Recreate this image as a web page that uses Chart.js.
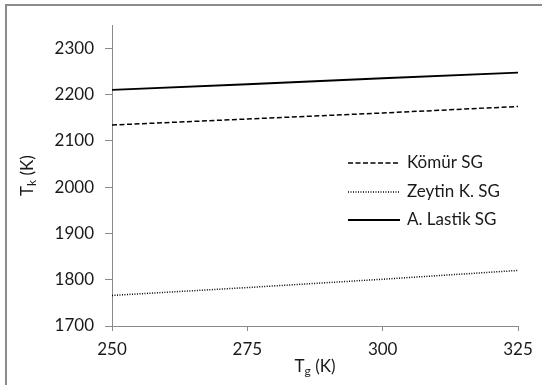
<!DOCTYPE html>
<html>
<head>
<meta charset="utf-8">
<script src="https://cdn.jsdelivr.net/npm/chart.js@4/dist/chart.umd.min.js"></script>
<style>
    html, body { margin: 0; padding: 0; background: #fff; }
    #wrap { width: 542px; height: 385px; position: relative; }
</style>
</head>
<body>
<div id="wrap"><canvas id="chart" width="542" height="385"></canvas></div>
<script>
// Values
const tgValues = [250, 275, 300, 325];
const komurSG = [2134, 2147, 2160, 2174];
const zeytinSG = [1766, 1783, 1801, 1820];
const lastikSG = [2210, 2222, 2235, 2247];
const seriesLabels = ['Kömür SG', 'Zeytin K. SG', 'A. Lastik SG'];
const xTicks = [250, 275, 300, 325];
const yTicks = [1700, 1800, 1900, 2000, 2100, 2200, 2300];

const fontFamily = "Lato, 'Open Sans', sans-serif";
const textColor = '#1a1a1a';
const axisColor = '#8a8a8a';

function toPoints(values) {
    return tgValues.map((x, i) => ({ x: x, y: values[i] }));
}

// Outer frame (left and top edges visible in the reference)
const framePlugin = {
    id: 'frame',
    beforeDraw(chart) {
        const ctx = chart.ctx;
        ctx.save();
        ctx.fillStyle = '#fff';
        ctx.fillRect(0, 0, chart.width, chart.height);
        ctx.strokeStyle = '#8c8c8c';
        ctx.lineWidth = 2;
        ctx.beginPath();
        ctx.moveTo(6, chart.height);
        ctx.lineTo(6, 5);
        ctx.lineTo(chart.width, 5);
        ctx.stroke();
        ctx.restore();
    }
};

// Axis titles with subscripts
function drawSubTitle(ctx, main, sub, rest) {
    const bigFont = '17px ' + fontFamily;
    const smallFont = '12px ' + fontFamily;
    ctx.font = bigFont;
    const w1 = ctx.measureText(main).width;
    ctx.font = smallFont;
    const w2 = ctx.measureText(sub).width;
    ctx.font = bigFont;
    const w3 = ctx.measureText(rest).width;
    let x = -(w1 + w2 + w3) / 2;
    ctx.textBaseline = 'alphabetic';
    ctx.textAlign = 'left';
    ctx.font = bigFont;
    ctx.fillText(main, x, 6);
    x += w1;
    ctx.font = smallFont;
    ctx.fillText(sub, x, 9);
    x += w2;
    ctx.font = bigFont;
    ctx.fillText(rest, x, 6);
}

const titlesPlugin = {
    id: 'titles',
    afterDraw(chart) {
        const ctx = chart.ctx;
        const area = chart.chartArea;
        ctx.save();
        ctx.fillStyle = textColor;
        ctx.translate((area.left + area.right) / 2, 366);
        drawSubTitle(ctx, 'T', 'g', ' (K)');
        ctx.restore();

        ctx.save();
        ctx.fillStyle = textColor;
        ctx.translate(27, (area.top + area.bottom) / 2);
        ctx.rotate(-Math.PI / 2);
        drawSubTitle(ctx, 'T', 'k', ' (K)');
        ctx.restore();
    }
};

// Legend drawn inside the plot area
const insideLegend = {
    id: 'insideLegend',
    afterDraw(chart) {
        const ctx = chart.ctx;
        const area = chart.chartArea;
        const x0 = area.left + 236;
        const rows = [138, 167, 195];
        ctx.save();
        chart.data.datasets.forEach((ds, i) => {
            const y = area.top + rows[i];
            ctx.strokeStyle = ds.borderColor;
            ctx.lineWidth = ds.borderWidth;
            ctx.setLineDash(ds.borderDash || []);
            ctx.beginPath();
            ctx.moveTo(x0, y);
            ctx.lineTo(x0 + 52, y);
            ctx.stroke();
            ctx.setLineDash([]);
            ctx.fillStyle = textColor;
            ctx.font = '17px ' + fontFamily;
            ctx.textAlign = 'left';
            ctx.textBaseline = 'middle';
            ctx.fillText(ds.label, x0 + 59, y);
        });
        ctx.restore();
    }
};

new Chart(document.getElementById('chart'), {
    type: 'line',
    data: {
        datasets: [
            {
                label: seriesLabels[0],
                data: toPoints(komurSG),
                borderColor: '#000',
                borderWidth: 1.5,
                borderDash: [5, 2.5]
            },
            {
                label: seriesLabels[1],
                data: toPoints(zeytinSG),
                borderColor: '#000',
                borderWidth: 1.5,
                borderDash: [1, 1.5]
            },
            {
                label: seriesLabels[2],
                data: toPoints(lastikSG),
                borderColor: '#000',
                borderWidth: 1.8,
                borderDash: []
            }
        ]
    },
    options: {
        responsive: false,
        animation: false,
        layout: { padding: { top: 25, right: 24, left: 0, bottom: 0 } },
        elements: { point: { radius: 0 }, line: { tension: 0 } },
        plugins: {
            legend: { display: false },
            tooltip: { enabled: false }
        },
        scales: {
            x: {
                type: 'linear',
                min: 250,
                max: 325,
                afterBuildTicks(scale) {
                    scale.ticks = xTicks.map(v => ({ value: v }));
                },
                afterFit(scale) { scale.height = 59; },
                grid: { drawOnChartArea: false, tickLength: 5, color: axisColor },
                border: { color: axisColor, width: 1 },
                ticks: {
                    color: textColor,
                    font: { family: fontFamily, size: 17 },
                    padding: 8,
                    maxRotation: 0,
                    callback: value => String(value)
                }
            },
            y: {
                min: 1700,
                max: 2350,
                afterBuildTicks(scale) {
                    scale.ticks = yTicks.map(v => ({ value: v }));
                },
                afterFit(scale) { scale.width = 112; },
                grid: { drawOnChartArea: false, tickLength: 7, color: axisColor },
                border: { color: axisColor, width: 1 },
                ticks: {
                    color: textColor,
                    font: { family: fontFamily, size: 17 },
                    padding: 11,
                    callback: value => String(value)
                }
            }
        }
    },
    plugins: [framePlugin, titlesPlugin, insideLegend]
});
</script>
</body>
</html>
